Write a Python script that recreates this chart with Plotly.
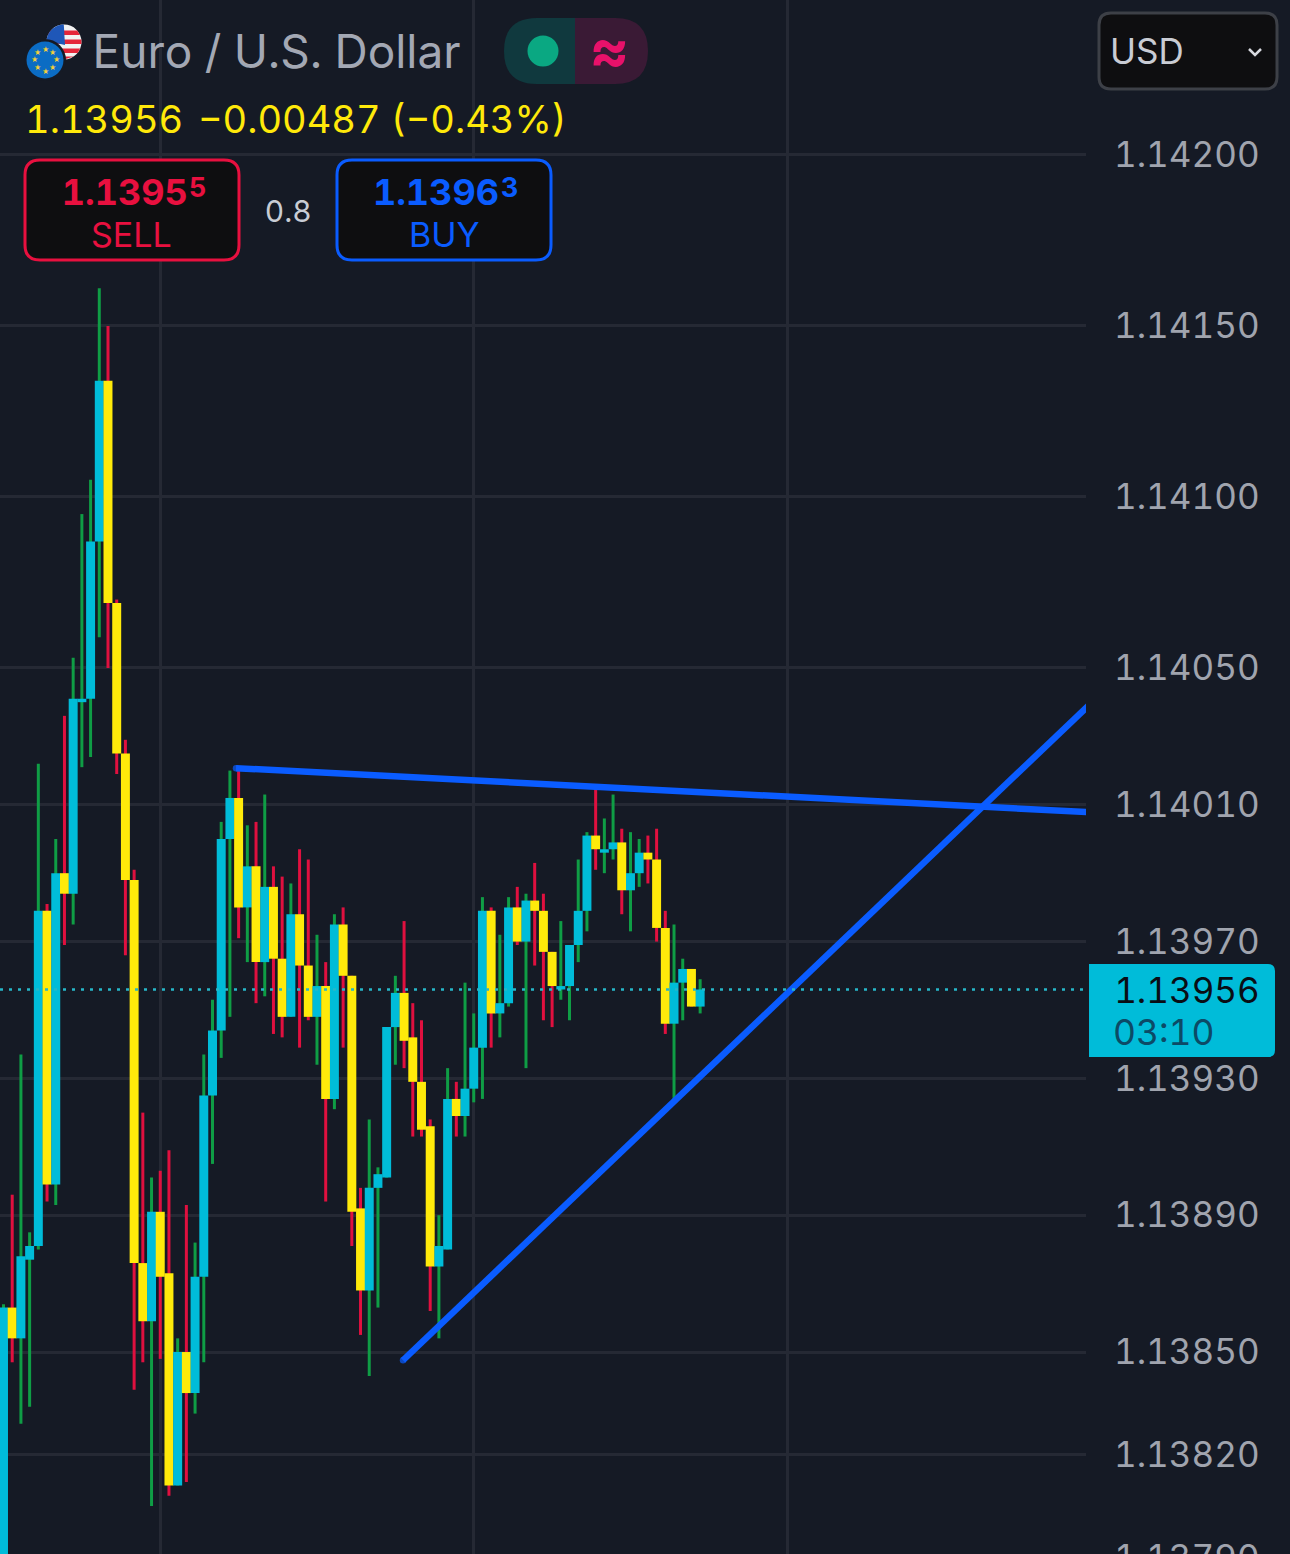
import math
import plotly.graph_objects as go

open_ = [1.13777,1.13863,1.13854,1.13877,1.13881,1.13979,1.13899,1.13990,1.13984,1.14040,
         1.14041,1.14087,1.14134,1.14069,1.14025,1.13988,1.13876,1.13859,1.13891,1.13873,
         1.13811,1.13850,1.13838,1.13872,1.13925,1.13944,1.14000,1.14012,1.13980,1.13992,
         1.13964,1.13986,1.13965,1.13948,1.13978,1.13963,1.13948,1.13957,1.13924,1.13975,
         1.13960,1.13892,1.13868,1.13898,1.13901,1.13945,1.13955,1.13942,1.13929,1.13916,
         1.13875,1.13880,1.13924,1.13919,1.13927,1.13939,1.13979,1.13949,1.13952,1.13980,
         1.13970,1.13982,1.13979,1.13967,1.13956,1.13957,1.13969,1.13979,1.14001,1.13996,
         1.13997,1.13999,1.13985,1.13990,1.13996,1.13994,1.13974,1.13946,1.13958,1.13962,
         1.13951]
close = [1.13863,1.13854,1.13878,1.13881,1.13979,1.13899,1.13990,1.13984,1.14041,1.14041,
         1.14087,1.14134,1.14069,1.14025,1.13988,1.13876,1.13859,1.13891,1.13872,1.13811,
         1.13850,1.13838,1.13872,1.13925,1.13944,1.14000,1.14012,1.13980,1.13992,1.13964,
         1.13986,1.13965,1.13948,1.13978,1.13963,1.13948,1.13957,1.13924,1.13975,1.13960,
         1.13891,1.13868,1.13898,1.13902,1.13945,1.13955,1.13941,1.13929,1.13915,1.13875,
         1.13881,1.13924,1.13919,1.13927,1.13939,1.13979,1.13949,1.13952,1.13980,1.13970,
         1.13982,1.13979,1.13967,1.13957,1.13957,1.13969,1.13979,1.14001,1.13997,1.13997,
         1.13999,1.13985,1.13990,1.13996,1.13994,1.13974,1.13946,1.13958,1.13962,1.13951,
         1.13956]
high = [1.13864,1.13896,1.13937,1.13885,1.14022,1.13981,1.14000,1.14036,1.14053,1.14095,
        1.14105,1.14161,1.14150,1.14070,1.14029,1.13991,1.13920,1.13901,1.13903,1.13909,
        1.13854,1.13893,1.13882,1.13937,1.13953,1.14005,1.14020,1.14020,1.14004,1.14005,
        1.14013,1.13992,1.13989,1.13987,1.13997,1.13994,1.13972,1.13964,1.13978,1.13980,
        1.13960,1.13898,1.13918,1.13904,1.13945,1.13960,1.13976,1.13952,1.13947,1.13918,
        1.13890,1.13933,1.13929,1.13958,1.13949,1.13983,1.13980,1.13972,1.13983,1.13986,
        1.13984,1.13993,1.13984,1.13967,1.13976,1.13969,1.13994,1.14002,1.14016,1.14006,
        1.14013,1.14003,1.14002,1.14000,1.14001,1.14003,1.13979,1.13975,1.13965,1.13962,
        1.13959]
low = [1.13771,1.13847,1.13829,1.13834,1.13880,1.13894,1.13893,1.13969,1.13975,1.14021,
       1.14024,1.14059,1.14050,1.14019,1.13966,1.13839,1.13847,1.13805,1.13848,1.13808,
       1.13811,1.13812,1.13832,1.13847,1.13905,1.13936,1.13948,1.13971,1.13964,1.13952,
       1.13954,1.13943,1.13942,1.13948,1.13939,1.13947,1.13934,1.13894,1.13921,1.13939,
       1.13881,1.13855,1.13843,1.13863,1.13901,1.13934,1.13933,1.13913,1.13913,1.13862,
       1.13854,1.13880,1.13913,1.13913,1.13923,1.13924,1.13939,1.13942,1.13951,1.13969,
       1.13933,1.13963,1.13947,1.13945,1.13953,1.13947,1.13964,1.13973,1.13991,1.13990,
       1.13994,1.13978,1.13973,1.13986,1.13987,1.13970,1.13943,1.13923,1.13947,1.13951,
       1.13949]

price_ticks = [1.14200,1.14150,1.14100,1.14050,1.14010,1.13970,1.13930,1.13890,1.13850,1.13820,1.13790]
time_ticks = [18,54,90]
last_price = 1.13956
resistance_x = [26.7,125]
resistance_y = [1.140207,1.140078]
support_x = [45.88,125]
support_y = [1.138476,1.140400]

W, H, PLOT_R = 1290, 1600, 1086
BG, GRID = "#151a25", "#252934"
UP, DOWN, UPW, DOWNW = "#00bcd9", "#ffea0a", "#0f9d45", "#e0103f"
BLUE, RED = "#0a5cff", "#e8103f"
FONT = "Inter"
step = 8.708

def X(p): return p / W
def Y(p): return 1 - p / H

idx = list(range(len(open_)))
fig = go.Figure()
fig.add_trace(go.Bar(x=idx, y=[h - l for h, l in zip(high, low)], base=low, width=3 / step,
                     marker=dict(color=[UPW if c >= o else DOWNW for o, c in zip(open_, close)], line_width=0),
                     hoverinfo="skip"))
fig.add_trace(go.Bar(x=idx, y=[abs(c - o) for o, c in zip(open_, close)],
                     base=[min(o, c) for o, c in zip(open_, close)], width=1.03,
                     marker=dict(color=[UP if c >= o else DOWN for o, c in zip(open_, close)], line_width=0),
                     hoverinfo="skip"))
for tx, ty in ((resistance_x, resistance_y), (support_x, support_y)):
    fig.add_trace(go.Scatter(x=tx, y=ty, mode="lines+markers", line=dict(color=BLUE, width=6.5),
                             marker=dict(color=BLUE, size=[6.5, 0], line_width=0), hoverinfo="skip"))

shapes, notes = [], []

def path(points):
    return "M" + " L".join(f"{X(a):.5f} {Y(b):.5f}" for a, b in points) + " Z"

def shp(d, fill, line=None, lw=0):
    shapes.append(dict(type="path", path=d, xref="paper", yref="paper", fillcolor=fill,
                       line=dict(color=line or fill, width=lw), layer="above"))

def round_rect(x0, y0, x1, y1, rl, rr=None):
    rr = rl if rr is None else rr
    p = lambda a, b: f"{X(a):.5f} {Y(b):.5f}"
    d = f"M{p(x0 + rl, y0)} L{p(x1 - rr, y0)}"
    if rr:
        d += f" Q{p(x1, y0)} {p(x1, y0 + rr)} L{p(x1, y1 - rr)} Q{p(x1, y1)} {p(x1 - rr, y1)}"
    else:
        d += f" L{p(x1, y0)} L{p(x1, y1)}"
    d += f" L{p(x0 + rl, y1)}"
    if rl:
        d += f" Q{p(x0, y1)} {p(x0, y1 - rl)} L{p(x0, y0 + rl)} Q{p(x0, y0)} {p(x0 + rl, y0)}"
    else:
        d += f" L{p(x0, y1)} L{p(x0, y0)}"
    return d + " Z"

def circle(cx, cy, r, fill):
    shapes.append(dict(type="circle", xref="paper", yref="paper", x0=X(cx - r), x1=X(cx + r),
                       y0=Y(cy + r), y1=Y(cy - r), fillcolor=fill, line_width=0, layer="above"))

def text(px, py, s, size, color, anchor="left", bold=False):
    notes.append(dict(xref="paper", yref="paper", x=X(px), y=Y(py), text=f"<b>{s}</b>" if bold else s,
                      showarrow=False, xanchor=anchor, yanchor="middle",
                      font=dict(family=FONT, size=size, color=color)))

# flags
cx, cy, r = 64, 42, 17.5
circle(cx, cy, r, "#f2f2f2")
for y1, y2 in ((30.5, 35), (39.5, 44), (48.5, 53), (56.5, 59.5)):
    d1 = math.sqrt(max(r * r - (y1 - cy) ** 2, 0))
    d2 = math.sqrt(max(r * r - (y2 - cy) ** 2, 0))
    shp(path([(cx - d1, y1), (cx + d1, y1), (cx + d2, y2), (cx - d2, y2)]), "#e5263a")
arc = [(cx + r * math.cos(a / 10), cy + r * math.sin(a / 10)) for a in range(32, 48)]
shp(path([(cx + 1, cy + 3)] + arc), "#1f57b8")
circle(45, 60, 21, BG)
circle(45, 60, 18.5, "#0b6cc4")
for k in range(8):
    a = 2 * math.pi * k / 8
    text(45 + 11 * math.cos(a), 60 + 11 * math.sin(a), "★", 7, "#f4d03a", "center")

text(89.5, 51, "Euro / U.S. Dollar", 46, "#a3a8b4")
shp(round_rect(504, 18, 575, 84, 33, 0), "#10393e")
shp(round_rect(575, 18, 648, 84, 0, 33), "#3a1a35")
circle(543, 51, 15.5, "#0aa882")
text(609, 49, "≈", 60, "#e8116a", "center", True)

text(35.5, 119, "1.13956", 38, "#ffe90a")
text(201, 119, "−0.00487 (−0.43%)", 38, "#ffe90a")

shp(round_rect(25, 160, 239, 260, 15), "#0e0e10", RED, 3)
text(181, 192, "1.1395", 36, RED, "right", True)
text(187, 188, "5", 27, RED, "left", True)
text(131, 235, "SELL", 34, RED, "center")
text(288, 211, "0.8", 30, "#c8ccd4", "center")
shp(round_rect(337, 160, 551, 260, 15), "#0e0e10", BLUE, 3)
text(493, 192, "1.1396", 36, BLUE, "right", True)
text(499, 188, "3", 27, BLUE, "left", True)
text(444, 235, "BUY", 34, BLUE, "center")

shp(round_rect(1099, 13, 1277, 89, 12), "#0e0e10", "#3d4047", 3)
text(1108, 51, "USD", 35, "#c9ccd4")
shapes.append(dict(type="path", path=f"M{X(1249):.5f} {Y(49):.5f} L{X(1255):.5f} {Y(55):.5f} L{X(1261):.5f} {Y(49):.5f}",
                   xref="paper", yref="paper", line=dict(color="#d8dae0", width=2.5), layer="above"))

shp(round_rect(1089, 964, 1275, 1057, 0, 7), UP)
text(1123.5, 990, f"{last_price:.5f}", 35, "#0a0d14")
text(1115.5, 1032, "03:10", 35.5, "#0c4a66")

shapes.append(dict(type="line", xref="x domain", yref="y", x0=0, x1=1, y0=last_price, y1=last_price,
                   line=dict(color="#26b7c9", width=2.5, dash="3px,6px"), layer="above"))

fig.update_layout(
    width=W, height=H, margin=dict(l=0, r=0, t=0, b=0), autosize=False,
    paper_bgcolor=BG, plot_bgcolor=BG, showlegend=False, barmode="overlay",
    shapes=shapes, annotations=notes,
    xaxis=dict(domain=[0, PLOT_R / W], range=[-0.402, 124.31], tickvals=time_ticks,
               showticklabels=False, showgrid=True, gridcolor=GRID, gridwidth=3,
               zeroline=False, showline=False, ticks=""),
    yaxis=dict(side="right", anchor="x", range=[1.137775, 1.142453], tickvals=price_ticks,
               ticktext=[f"{v:.5f}" for v in price_ticks], showgrid=True, gridcolor=GRID, gridwidth=2.5,
               zeroline=False, showline=False, ticks="outside", ticklen=20, tickcolor="rgba(0,0,0,0)",
               tickfont=dict(family=FONT, size=35, color="#a0a4ae")),
)
css = 'svg text{font-variant-numeric:tabular-nums;font-feature-settings:"tnum" 1;font-kerning:none}'
fig.write_html("out.html", config=dict(displayModeBar=False),
               post_script="document.body.style.margin='0';document.body.style.overflow='hidden';"
                           "document.documentElement.style.overflow='hidden';"
                           f"document.body.style.background='{BG}';"
                           f"var s=document.createElement('style');s.textContent='{css}';document.head.appendChild(s);")
